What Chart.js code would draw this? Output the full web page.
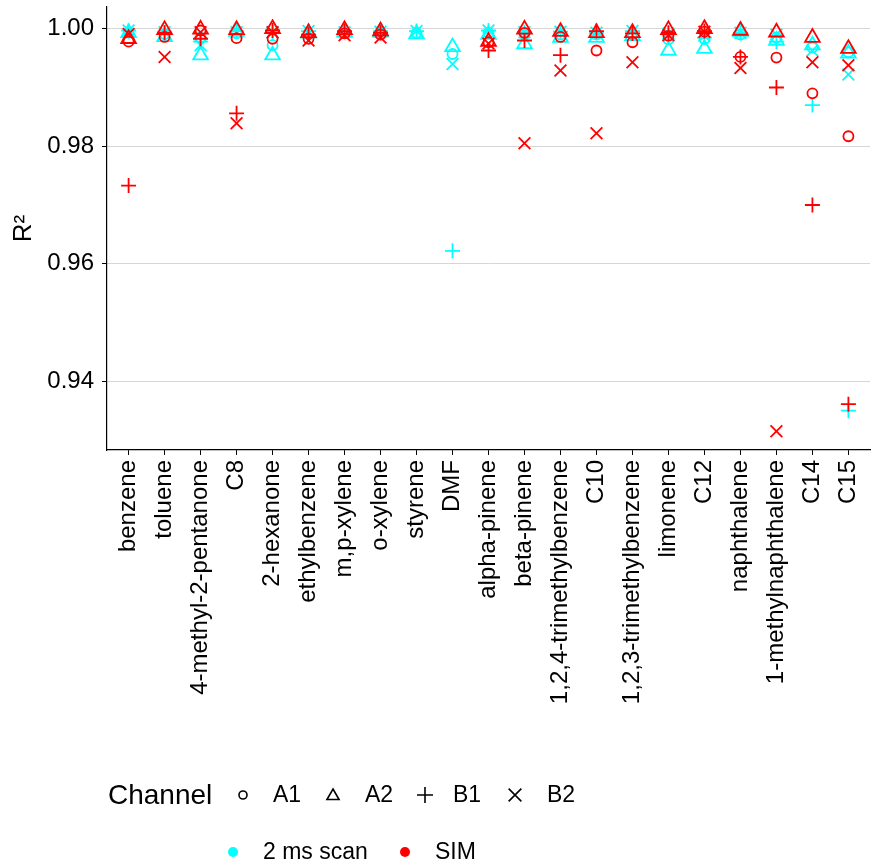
<!DOCTYPE html>
<html>
<head>
<meta charset="utf-8">
<script src="https://cdn.jsdelivr.net/npm/chart.js@4.4.1/dist/chart.umd.min.js"></script>
<style>
  html, body { margin: 0; padding: 0; background: #fff; }
  #wrap { position: relative; width: 872px; height: 865px; }
</style>
</head>
<body>
<div id="wrap"><canvas id="r2Chart"></canvas></div>
<script>
const categories = ['benzene', 'toluene', '4-methyl-2-pentanone', 'C8', '2-hexanone', 'ethylbenzene',
  'm,p-xylene', 'o-xylene', 'styrene', 'DMF', 'alpha-pinene', 'beta-pinene',
  '1,2,4-trimethylbenzene', 'C10', '1,2,3-trimethylbenzene', 'limonene', 'C12',
  'naphthalene', '1-methylnaphthalene', 'C14', 'C15'];

// 2 ms scan
const scanA1 = [0.9993, 0.9991, 0.9985, 0.9992, 0.9972, 0.9991, 0.9993, 0.9993, 0.9993, 0.9957, 0.9993,
  0.9990, 0.9990, 0.9990, 0.9990, 0.9982, 0.9983, 0.9990, 0.9985, 0.9968, 0.9960];
const scanA2 = [0.9993, 0.9986, 0.9955, 0.9995, 0.9955, 0.9992, 0.9994, 0.9994, 0.9991, 0.9969, 0.9990,
  0.9974, 0.9985, 0.9985, 0.9988, 0.9963, 0.9966, 0.9995, 0.9980, 0.9972, 0.9958];
const scanB1 = [0.9997, 0.9994, 0.9978, 0.9996, 0.9993, 0.9996, 0.9995, 0.9996, 0.9996, 0.9622, 0.9997,
  0.9994, 0.9995, 0.9993, 0.9996, 0.9992, 0.9985, 0.9993, 0.9978, 0.9870, 0.9350];
const scanB2 = [0.9997, 0.9994, 0.9972, 0.9994, 0.9994, 0.9996, 0.9994, 0.9995, 0.9996, 0.9940, 0.9997,
  0.9994, 0.9995, 0.9993, 0.9996, 0.9992, 0.9988, 0.9993, 0.9990, 0.9963, 0.9922];

// SIM
const simA1 = [0.9978, 0.9986, 0.9997, 0.9984, 0.9983, 0.9983, 0.9992, 0.9990, null, null, 0.9977,
  0.9993, 0.9986, 0.9963, 0.9977, 0.9988, 0.9995, 0.9952, 0.9951, 0.9890, 0.9817];
const simA2 = [0.9983, 0.9998, 0.9999, 0.9998, 1.0000, 0.9993, 0.9998, 0.9996, null, null, 0.9978,
  0.9999, 0.9995, 0.9993, 0.9993, 0.9998, 1.0000, 0.9997, 0.9994, 0.9985, 0.9966];
const simB1 = [0.9733, 0.9993, 0.9983, 0.9856, 0.9997, 0.9990, 0.9996, 0.9993, null, null, 0.9963,
  0.9980, 0.9955, 0.9996, 0.9992, 0.9993, 0.9996, 0.9952, 0.9900, 0.9700, 0.9361];
const simB2 = [0.9991, 0.9952, 0.9994, 0.9839, 0.9994, 0.9980, 0.9989, 0.9985, null, null, 0.9975,
  0.9805, 0.9929, 0.9822, 0.9943, 0.9989, 0.9995, 0.9933, 0.9315, 0.9943, 0.9938];

const yTicks = [0.94, 0.96, 0.98, 1.00];

const SCAN = '#00ffff';
const SIM = '#ff0000';
const FONT = '"Liberation Sans", Arial, sans-serif';

const shapes = {
  A1: { style: 'circle', radius: 5 },
  A2: { style: 'triangle', radius: 8.5 },
  B1: { style: 'cross', radius: 7.5 },
  B2: { style: 'crossRot', radius: 8.3 }
};

function makeSet(label, values, color, channel) {
  return {
    label: label,
    data: values.map((v, i) => ({ x: i, y: v })).filter(p => p.y !== null),
    borderColor: color,
    backgroundColor: 'rgba(0,0,0,0)',
    pointStyle: shapes[channel].style,
    pointRadius: shapes[channel].radius,
    pointBorderWidth: 1.8,
    showLine: false
  };
}

// first datasets are drawn on top, so SIM goes first
const datasets = [
  makeSet('SIM A1', simA1, SIM, 'A1'),
  makeSet('SIM A2', simA2, SIM, 'A2'),
  makeSet('SIM B1', simB1, SIM, 'B1'),
  makeSet('SIM B2', simB2, SIM, 'B2'),
  makeSet('scan A1', scanA1, SCAN, 'A1'),
  makeSet('scan A2', scanA2, SCAN, 'A2'),
  makeSet('scan B1', scanB1, SCAN, 'B1'),
  makeSet('scan B2', scanB2, SCAN, 'B2')
];

function drawSymbol(ctx, style, x, y, r, color, fill) {
  ctx.save();
  ctx.strokeStyle = color;
  ctx.fillStyle = color;
  ctx.lineWidth = 1.6;
  ctx.beginPath();
  if (style === 'circle') {
    ctx.arc(x, y, r, 0, Math.PI * 2);
    if (fill) ctx.fill(); else ctx.stroke();
  } else if (style === 'triangle') {
    ctx.moveTo(x, y - r);
    ctx.lineTo(x + r * 0.866, y + r * 0.5);
    ctx.lineTo(x - r * 0.866, y + r * 0.5);
    ctx.closePath();
    ctx.stroke();
  } else if (style === 'cross') {
    ctx.moveTo(x - r, y); ctx.lineTo(x + r, y);
    ctx.moveTo(x, y - r); ctx.lineTo(x, y + r);
    ctx.stroke();
  } else {
    const d = r * 0.707;
    ctx.moveTo(x - d, y - d); ctx.lineTo(x + d, y + d);
    ctx.moveTo(x - d, y + d); ctx.lineTo(x + d, y - d);
    ctx.stroke();
  }
  ctx.restore();
}

// legends under the plot, drawn straight onto the canvas
const legendPlugin = {
  id: 'bottomLegend',
  afterDraw(chart) {
    const ctx = chart.ctx;
    ctx.save();
    ctx.fillStyle = '#000';
    ctx.textBaseline = 'middle';
    ctx.textAlign = 'left';
    ctx.font = '28px ' + FONT;
    ctx.fillText('Channel', 108, 796);
    ctx.font = '23px ' + FONT;
    drawSymbol(ctx, 'circle', 243, 795, 4, '#000', false);
    ctx.fillText('A1', 273, 796);
    drawSymbol(ctx, 'triangle', 333, 796, 7, '#000', false);
    ctx.fillText('A2', 365, 796);
    drawSymbol(ctx, 'cross', 425, 795, 8, '#000', false);
    ctx.fillText('B1', 453, 796);
    drawSymbol(ctx, 'crossRot', 515, 795, 9, '#000', false);
    ctx.fillText('B2', 547, 796);

    drawSymbol(ctx, 'circle', 233, 852, 5, SCAN, true);
    ctx.fillStyle = '#000';
    ctx.fillText('2 ms scan', 263, 853);
    drawSymbol(ctx, 'circle', 405, 852, 5, SIM, true);
    ctx.fillStyle = '#000';
    ctx.fillText('SIM', 435, 853);
    ctx.restore();
  }
};

const ctx = document.getElementById('r2Chart').getContext('2d');

new Chart(ctx, {
  type: 'scatter',
  data: { datasets: datasets },
  options: {
    responsive: true,
    maintainAspectRatio: false,
    animation: false,
    clip: false,
    layout: { autoPadding: false, padding: { top: 7, right: 2, bottom: 0, left: 0 } },
    scales: {
      x: {
        type: 'linear',
        min: -0.6,
        max: categories.length - 0.4,
        afterBuildTicks: scale => {
          scale.ticks = categories.map((c, i) => ({ value: i }));
        },
        afterFit: scale => {
          scale.height = 415;
          scale.paddingLeft = 0;
          scale.paddingRight = 0;
        },
        ticks: {
          autoSkip: false,
          maxRotation: 90,
          minRotation: 90,
          padding: 5,
          color: '#000',
          font: { family: FONT, size: 24 },
          callback: v => categories[v]
        },
        grid: { drawOnChartArea: false, tickColor: '#000', tickLength: 5 },
        border: { display: true, color: '#000', width: 1.2 }
      },
      y: {
        min: 0.9283,
        max: 1.0037,
        afterBuildTicks: scale => {
          scale.ticks = yTicks.map(v => ({ value: v }));
        },
        afterFit: scale => {
          scale.width = 107;
          scale.paddingTop = 0;
          scale.paddingBottom = 0;
        },
        ticks: {
          padding: 8,
          color: '#000',
          font: { family: FONT, size: 24 },
          callback: v => v.toFixed(2)
        },
        grid: { color: '#d6d6d6', lineWidth: 1, tickColor: '#000', tickLength: 5 },
        border: { display: true, color: '#000', width: 1.2 },
        title: {
          display: true,
          text: 'R²',
          color: '#000',
          font: { family: FONT, size: 26 },
          padding: { top: 8, bottom: 4 }
        }
      }
    },
    plugins: {
      legend: { display: false },
      tooltip: { enabled: false }
    }
  },
  plugins: [legendPlugin]
});
</script>
</body>
</html>
